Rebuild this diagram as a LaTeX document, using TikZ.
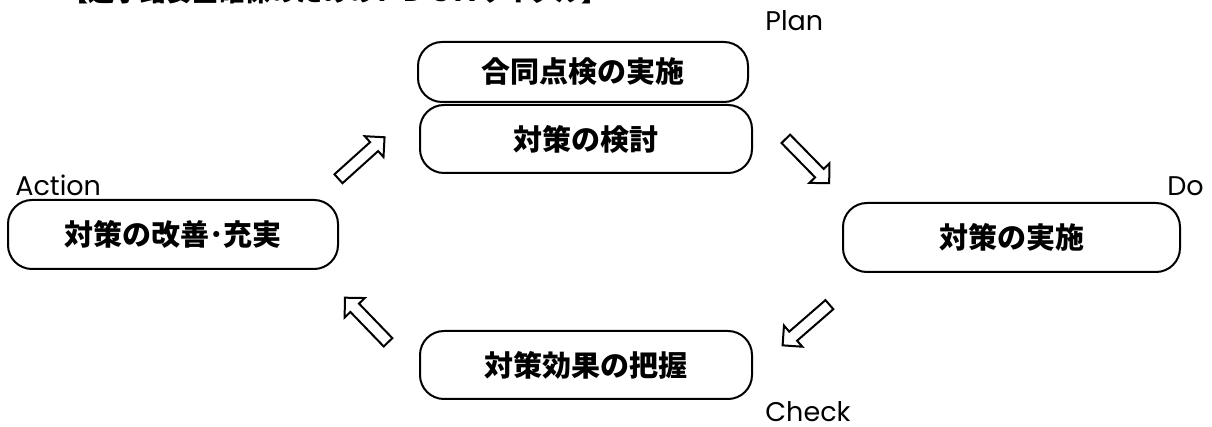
\documentclass[tikz,border=0pt]{standalone}
\usepackage{fontspec}
\newfontfamily\jp{Noto Sans CJK JP}
\newfontfamily\lat{Poppins}
\begin{document}
\begin{tikzpicture}[x=0.5pt,y=-0.5pt,
  box/.style={draw=black,line width=1pt,rounded corners=12pt,fill=white,
    font=\jp\bfseries\fontsize{14.5pt}{16pt}\selectfont,inner sep=0pt},
  lbl/.style={font=\lat\fontsize{13.5pt}{15pt}\selectfont,inner sep=0pt,anchor=base west},
  blockarr/.pic={\draw[line width=1pt,line join=miter,fill=white]
     (-31,-6) -- (17,-6) -- (17,-14) -- (31,0) -- (17,14) -- (17,6) -- (-31,6) -- cycle;}]
\useasboundingbox (0,0) rectangle (1212,427);
% title (cropped at the top of the picture)
\node[font=\jp\bfseries\fontsize{13pt}{15pt}\selectfont,anchor=west,inner sep=0pt] (title) at (62,-8) {【通学路安全確保のためのＰＤＣＡサイクル】};
% boxes
\node[box,minimum width=165pt,minimum height=30pt] (plan1) at (583,72) {合同点検の実施};
\node[box,minimum width=166pt,minimum height=34pt] (plan2) at (586,139) {対策の検討};
\node[box,minimum width=168.5pt,minimum height=34.5pt] (do) at (1011.5,237.5) {対策の実施};
\node[box,minimum width=165pt,minimum height=34.5pt] (act) at (173,234.5) {対策の改善･充実};
\node[box,minimum width=166pt,minimum height=34pt] (chk) at (586,365) {対策効果の把握};
% labels
\node[lbl] (lplan) at (765,31) {Plan};
\node[lbl] (lact) at (15,196) {Action};
\node[lbl] (ldo) at (1167,196) {Do};
\node[lbl] (lchk) at (765,422) {Check};
% block arrows
\pic[rotate=42] at (361.5,158) {blockarr};
\pic[rotate=-45.6] at (807.5,161) {blockarr};
\pic[rotate=-139] at (806,325) {blockarr};
\pic[rotate=134] at (366.5,320) {blockarr};
\end{tikzpicture}
\end{document}
